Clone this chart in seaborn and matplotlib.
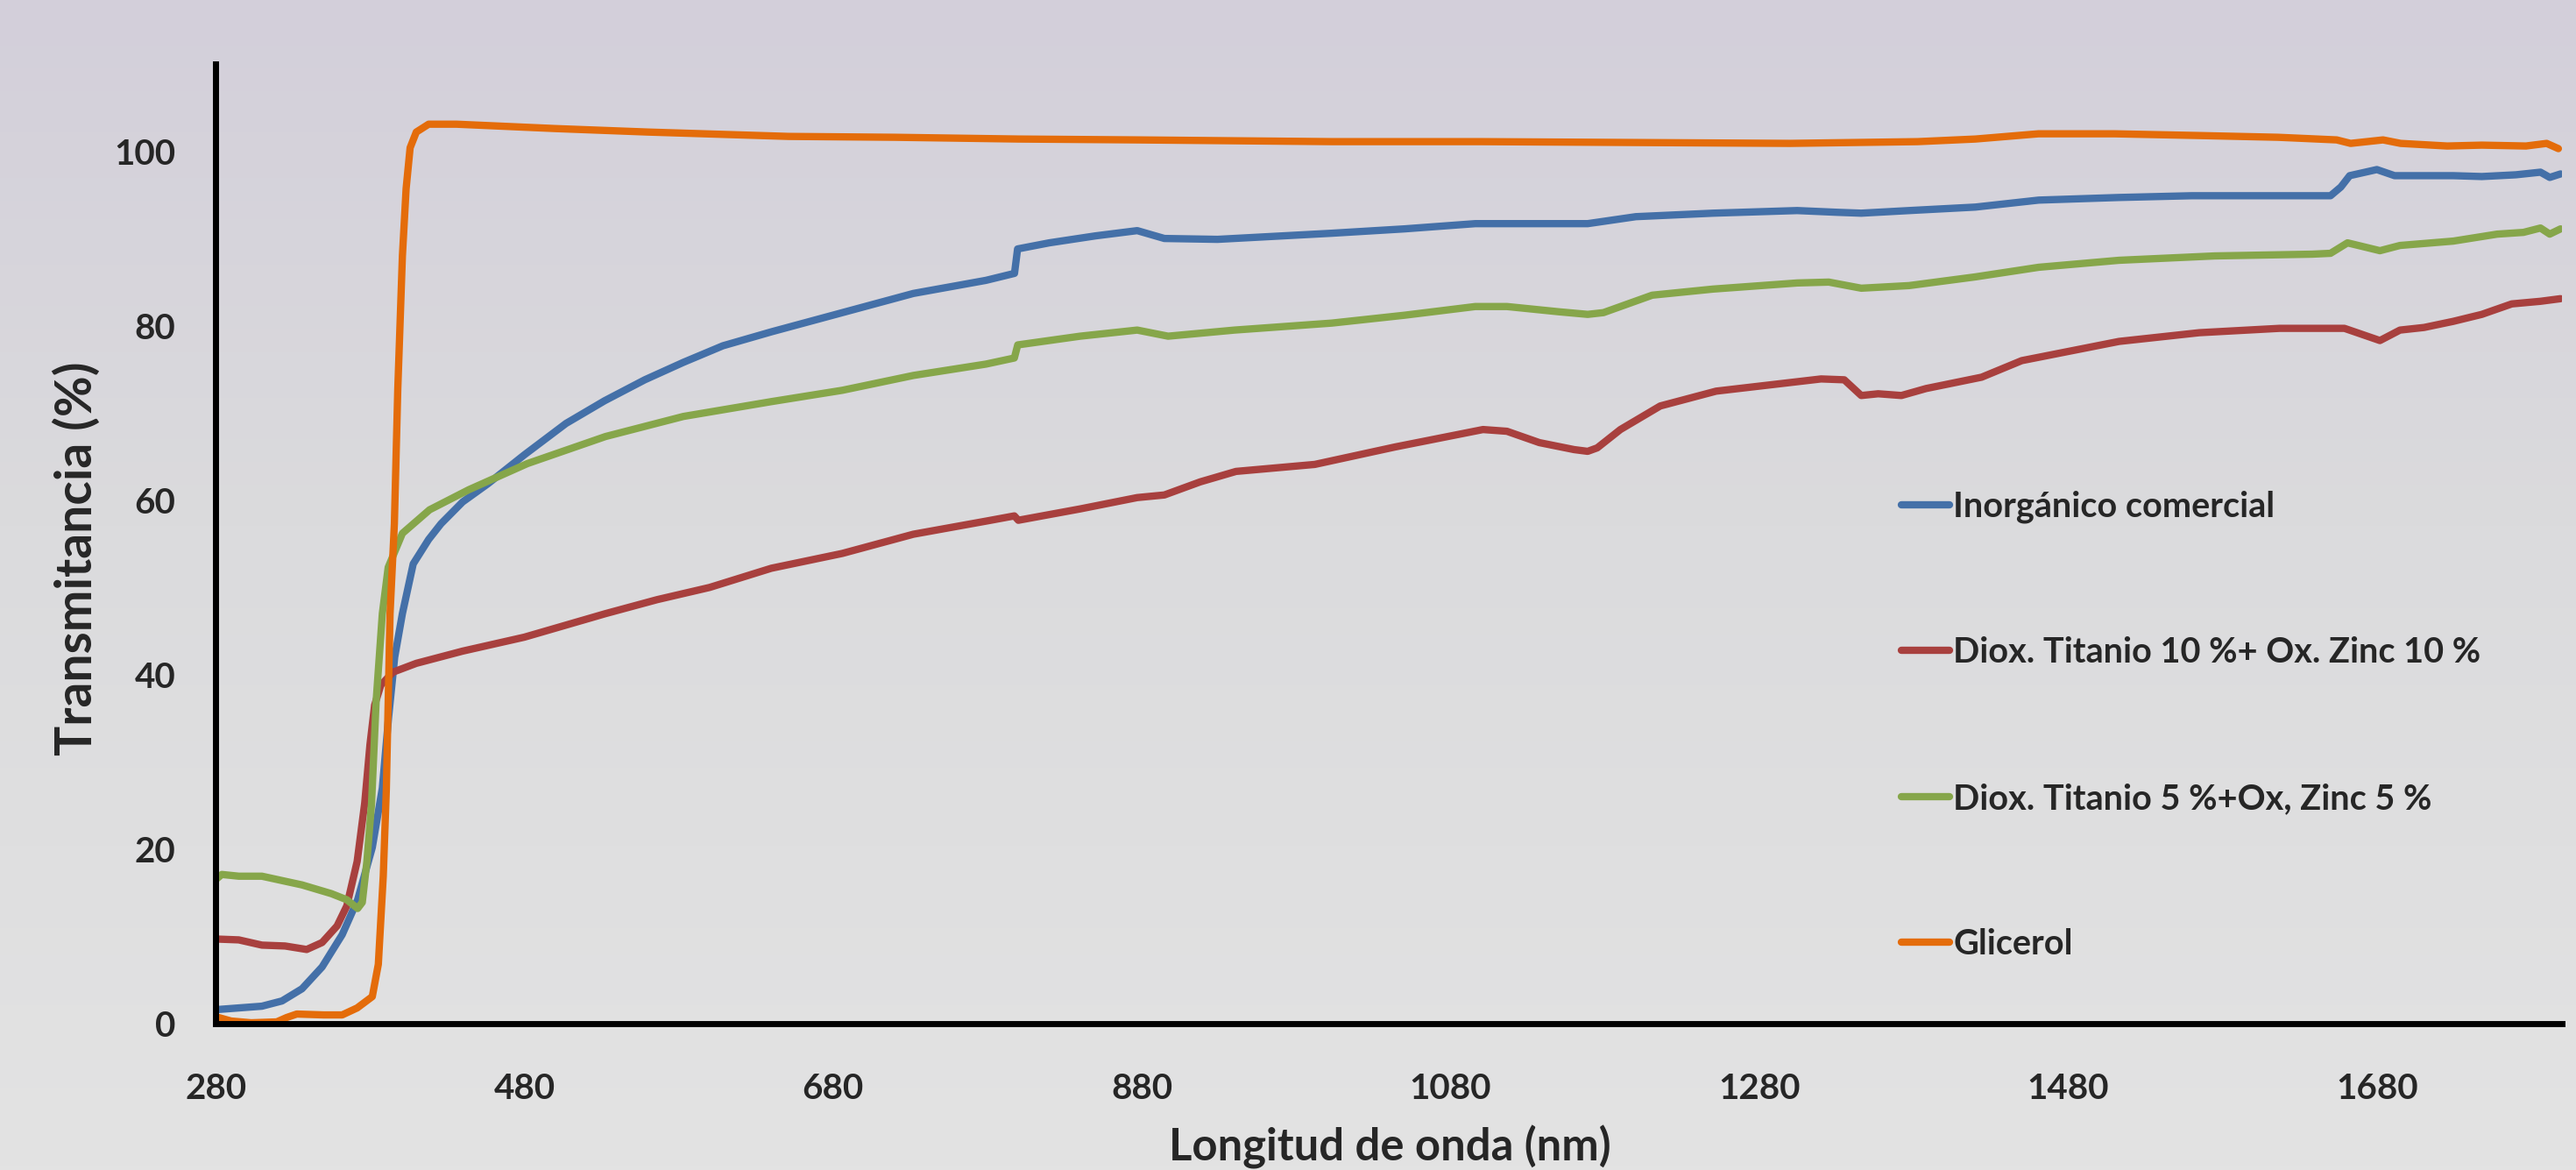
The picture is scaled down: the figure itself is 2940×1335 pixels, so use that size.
import numpy as np
import pandas as pd
import matplotlib
matplotlib.use("Agg")
import matplotlib.pyplot as plt
import seaborn as sns

# curvas (longitud de onda en nm, transmitancia en %)
nm_inorg = [280, 295, 310, 323, 336, 349, 362, 372, 381.5, 388, 392, 396, 401, 408, 418, 426,
            440, 456.5, 480, 507, 532, 558, 583, 608.6, 640, 686, 732, 779, 797.5, 799.5, 820,
            850, 877, 894.6, 929, 1003, 1050, 1096, 1168.8, 1200, 1250, 1304.5, 1330.5, 1346,
            1377, 1420, 1461, 1513, 1560, 1616, 1650, 1656.7, 1662.4, 1680, 1691.5, 1729.5,
            1748, 1770, 1786, 1792, 1799]
t_inorg = [1.6, 1.8, 2.0, 2.6, 4.0, 6.5, 10.2, 14.2, 20.2, 27, 35, 42, 47, 52.7, 55.5, 57.3,
           59.8, 61.9, 65.2, 68.8, 71.4, 73.8, 75.8, 77.7, 79.3, 81.5, 83.7, 85.2, 86.0, 88.8, 89.5,
           90.3, 90.9, 90.0, 89.9, 90.6, 91.1, 91.7, 91.7, 92.5, 92.9, 93.2, 93.0, 92.9,
           93.2, 93.6, 94.4, 94.7, 94.9, 94.9, 94.9, 95.9, 97.2, 97.9, 97.2, 97.2,
           97.1, 97.3, 97.6, 97.0, 97.4]

nm_ti10 = [280, 295, 310, 325, 339, 349, 358.7, 365, 371.7, 376.6, 380, 383, 387, 395, 410, 440,
           480, 532.6, 566, 600, 640, 686, 732, 779, 797.4, 800, 840, 877, 894.6, 917.8, 941,
           992, 1044, 1101, 1116.5, 1137.5, 1160, 1168.8, 1175, 1190, 1215.8, 1252, 1320, 1335,
           1346, 1357, 1372, 1388, 1424, 1450, 1513, 1565, 1617, 1659, 1682, 1695, 1710.6,
           1729.5, 1748, 1767.4, 1786, 1799]
t_ti10 = [9.7, 9.6, 9.0, 8.9, 8.5, 9.3, 11.2, 13.5, 18.6, 25.3, 32, 36.5, 38.8, 40.3, 41.3, 42.7,
          44.3, 47.0, 48.6, 50.0, 52.2, 53.9, 56.1, 57.6, 58.2, 57.7, 59.0, 60.3, 60.6, 62.1, 63.3,
          64.1, 66.1, 68.1, 67.9, 66.6, 65.8, 65.6, 66.0, 68.1, 70.8, 72.5, 73.9, 73.8,
          72.0, 72.2, 72.0, 72.8, 74.1, 76.0, 78.2, 79.2, 79.7, 79.7, 78.3, 79.5, 79.8,
          80.5, 81.3, 82.5, 82.8, 83.1]

nm_ti5 = [280, 284, 295, 310, 323, 336, 355, 365, 372, 375, 378, 381, 384, 388, 391.8, 401,
          418.6, 444, 482, 532.6, 583, 640, 686, 732, 779, 797.4, 799.6, 840, 877, 897, 940,
          1003, 1050, 1096, 1116.5, 1150, 1168.8, 1179, 1210.6, 1250, 1304.5, 1325, 1346, 1377,
          1420, 1461, 1513, 1575, 1638, 1650, 1661, 1682, 1695, 1729.5, 1758, 1775, 1786,
          1792, 1799]
t_ti5 = [16.5, 17.1, 16.9, 16.9, 16.4, 15.9, 14.9, 14.2, 13.2, 13.9, 18.6, 25.2, 37, 47, 52.3, 56.2,
         58.9, 61.2, 64.2, 67.3, 69.6, 71.3, 72.6, 74.3, 75.6, 76.3, 77.8, 78.8, 79.5, 78.8, 79.5,
         80.3, 81.2, 82.2, 82.2, 81.6, 81.3, 81.5, 83.5, 84.2, 84.9, 85.0, 84.3, 84.6,
         85.6, 86.7, 87.5, 88.0, 88.2, 88.3, 89.5, 88.6, 89.2, 89.7, 90.5, 90.7, 91.2,
         90.5, 91.1]

nm_glic = [280, 290, 303, 319.6, 326, 332.6, 350, 362, 371.7, 381.5, 385.4, 388.6, 390.6, 393,
           395.8, 398, 401, 403.4, 406, 410, 418, 436, 500, 560, 651, 720, 800, 877, 1003,
           1100, 1200, 1300, 1382.5, 1420, 1460.8, 1510, 1565, 1616, 1654, 1663, 1684, 1695.4,
           1725.6, 1748, 1776.6, 1790, 1797.6]
t_glic = [0.8, 0.3, 0.1, 0.2, 0.7, 1.1, 1.0, 1.0, 1.8, 3.1, 6.8, 16.9, 26.9, 47,
          57.3, 72.7, 88, 95.7, 100.4, 102.2, 103.1, 103.1, 102.6, 102.2, 101.7, 101.6, 101.4, 101.3, 101.1,
          101.1, 101.0, 100.9, 101.1, 101.4, 102.0, 102.0, 101.8, 101.6, 101.3, 100.9, 101.3, 100.9,
          100.6, 100.7, 100.6, 100.9, 100.3]

series = ["Inorgánico comercial", "Diox. Titanio 10 %+ Ox. Zinc 10 %",
          "Diox. Titanio 5 %+Ox, Zinc 5 %", "Glicerol"]
colores = ["#4470A8", "#A8403E", "#86A64A", "#E46C0A"]
x_ticks = [280, 480, 680, 880, 1080, 1280, 1480, 1680]
y_ticks = [0, 20, 40, 60, 80, 100]

partes = []
for nombre, xs, ys in zip(series, [nm_inorg, nm_ti10, nm_ti5, nm_glic],
                          [t_inorg, t_ti10, t_ti5, t_glic]):
    partes.append(pd.DataFrame({"nm": xs, "T": ys, "serie": nombre}))
df = pd.concat(partes, ignore_index=True)

sns.set_style("white")
plt.rcParams["font.family"] = ["Lato", "DejaVu Sans"]
plt.rcParams["font.weight"] = "bold"

fig = plt.figure(figsize=(29.4, 13.35), dpi=100)

# fondo degradado
bg = fig.add_axes([0, 0, 1, 1], zorder=-10)
grad = np.linspace(0, 1, 256)[:, None]
top = np.array([211, 207, 218]) / 255
mid = np.array([219, 219, 221]) / 255
bot = np.array([227, 227, 227]) / 255
cols = np.where(grad[..., None] < 0.45,
                top + (mid - top) * (grad[..., None] / 0.45),
                mid + (bot - mid) * ((grad[..., None] - 0.45) / 0.55))
bg.imshow(cols, aspect="auto", extent=[0, 1, 0, 1])
bg.axis("off")

ax = fig.add_axes([0.0837, 0.1251, 0.9109, 0.8202])
ax.set_facecolor("none")

sns.lineplot(data=df, x="nm", y="T", hue="serie", hue_order=series, palette=colores,
             estimator=None, sort=False, linewidth=6, ax=ax)
for ln in ax.get_lines():
    ln.set_solid_joinstyle("round")

ax.set_xlim(280, 1800)
ax.set_ylim(0, 110)
ax.set_xticks(x_ticks)
ax.set_yticks(y_ticks)
ax.tick_params(axis="both", which="major", length=11, width=5, color="black",
               labelsize=29, direction="out")
ax.tick_params(axis="y", pad=22)
ax.tick_params(axis="x", pad=29)
for lab in ax.get_xticklabels() + ax.get_yticklabels():
    lab.set_fontweight("bold")

for s in ["top", "right"]:
    ax.spines[s].set_visible(False)
for s in ["left", "bottom"]:
    ax.spines[s].set_linewidth(5)
    ax.spines[s].set_color("black")

ax.set_xlabel("Longitud de onda (nm)", fontsize=36.5, fontweight="bold")
ax.set_ylabel("Transmitancia (%)", fontsize=41, fontweight="bold")
ax.xaxis.set_label_coords(0.5004, -0.106)
ax.yaxis.set_label_coords(-0.049, 0.485)

handles, labels = ax.get_legend_handles_labels()
for h in handles:
    h.set_linewidth(6)
    h.set_solid_capstyle("round")
leg = ax.legend(handles, labels, loc="upper left", bbox_to_anchor=(0.738, 0.581),
                bbox_transform=fig.transFigure, frameon=False, fontsize=28.5,
                handlelength=1.4, handletextpad=0.1, labelspacing=3.27,
                borderpad=0, borderaxespad=0)
for t in leg.get_texts():
    t.set_fontweight("bold")

fig.savefig("out.png", dpi=100)
